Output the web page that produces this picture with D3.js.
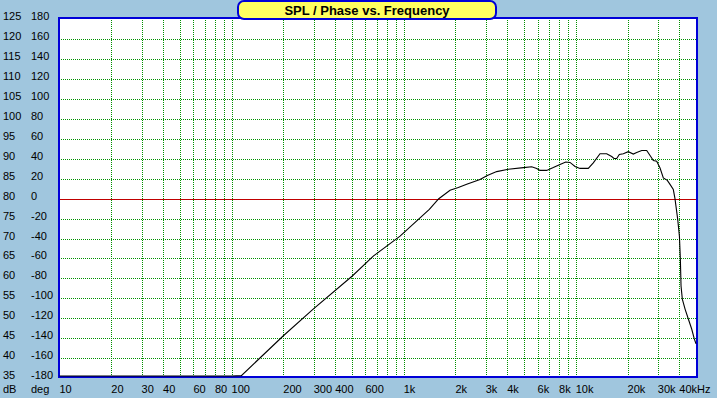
<!DOCTYPE html>
<html>
<head>
<meta charset="utf-8">
<script src="https://cdn.jsdelivr.net/npm/d3@7"></script>
<style>
  html, body { margin: 0; padding: 0; background: #a0c6de; }
  svg { display: block; }
  .lbl { font-family: "Liberation Sans", Arial, sans-serif; font-size: 11px; fill: #000; }
  .grid line { shape-rendering: crispEdges; }
</style>
</head>
<body>
<div id="chart"></div>
<script>
// SPL curve (Hz / dB)
const freqs = [10, 100, 114, 200, 298, 503, 666, 953, 1410, 1600, 1860, 2078, 2325, 2778, 3063, 3474,
  4056, 4962, 5546, 5930, 6200, 6776, 7410, 8104, 8747, 9264, 9906, 10590, 11830, 12650, 13840,
  15130, 16180, 16690, 17300, 17920, 18900, 20210, 21610, 22610, 24180, 25850, 27280, 28250,
  29560, 30900, 32290, 34060, 35320, 36910, 37740, 39150, 40050, 40560, 40930, 41640, 43200,
  45130, 47200, 48870, 50000];
const spl = [35, 35, 35.6, 45.6, 52.3, 60.6, 65.6, 70.6, 77.3, 80, 82.1, 82.8, 83.6, 84.8, 85.8, 86.8,
  87.4, 87.8, 88, 87.6, 87.1, 87.1, 87.8, 88.6, 89.2, 89.1, 88.1, 87.6, 87.6, 89, 91.3,
  91.3, 90.6, 90.1, 90.1, 91.1, 91.3, 91.8, 91.2, 91.6, 92.1, 92.1, 90.6, 89.6,
  89.4, 87.7, 85.2, 84.6, 83.6, 82.3, 80, 74.8, 70.6, 64.8, 58.1, 54.8, 52.3,
  49.8, 47.3, 44.8, 43.6];

// axis ticks
const dbTicks = d3.range(125, 34, -5);           // 125 .. 35
const degTicks = d3.range(180, -181, -20);       // 180 .. -180
const gridFreqs = [20, 30, 40, 50, 60, 70, 80, 90, 100, 200, 300, 400, 500, 600, 700, 800, 900,
  1000, 2000, 3000, 4000, 5000, 6000, 7000, 8000, 9000, 10000, 20000, 30000, 40000];
const freqLabels = [
  [10, "10"], [20, "20"], [30, "30"], [40, "40"], [60, "60"], [80, "80"], [100, "100"],
  [200, "200"], [300, "300"], [400, "400"], [600, "600"], [1000, "1k"], [2000, "2k"],
  [3000, "3k"], [4000, "4k"], [6000, "6k"], [8000, "8k"], [10000, "10k"], [20000, "20k"],
  [30000, "30k"], [40000, "40kHz"]
];
const title = "SPL / Phase vs. Frequency";

const width = 717, height = 398;
const plot = { left: 59, top: 18, right: 697, bottom: 377 };

const x = d3.scaleLog().domain([10, 50000]).range([59.5, 696]);
const y = d3.scaleLinear().domain([35, 125]).range([378, 19.4]);

const svg = d3.select("#chart").append("svg")
  .attr("width", width)
  .attr("height", height);

// plot background
svg.append("rect")
  .attr("x", plot.left).attr("y", plot.top)
  .attr("width", plot.right - plot.left).attr("height", plot.bottom - plot.top)
  .attr("fill", "#fff");

// vertical grid
svg.append("g").attr("class", "grid").selectAll("line")
  .data(gridFreqs)
  .enter().append("line")
  .attr("x1", d => Math.round(x(d)) + 0.5)
  .attr("x2", d => Math.round(x(d)) + 0.5)
  .attr("y1", plot.top).attr("y2", plot.bottom)
  .attr("stroke", "#009000")
  .attr("stroke-width", 1)
  .attr("stroke-dasharray", "1,1");

// horizontal grid (80 dB / 0 deg line in red)
svg.append("g").attr("class", "grid").selectAll("line")
  .data(dbTicks.filter(d => d > 35 && d < 125))
  .enter().append("line")
  .attr("x1", plot.left).attr("x2", plot.right)
  .attr("y1", d => Math.round(y(d)) + 0.5)
  .attr("y2", d => Math.round(y(d)) + 0.5)
  .attr("stroke", d => d === 80 ? "#c00000" : "#009000")
  .attr("stroke-width", 1)
  .attr("stroke-dasharray", d => d === 80 ? null : "1,1");

// frame
svg.append("rect")
  .attr("x", plot.left).attr("y", plot.top)
  .attr("width", plot.right - plot.left).attr("height", plot.bottom - plot.top)
  .attr("fill", "none")
  .attr("stroke", "#0000d8")
  .attr("stroke-width", 2);

// SPL curve
const data = freqs.map((f, i) => ({ f: f, v: spl[i] }));
const line = d3.line()
  .x(d => x(d.f))
  .y(d => Math.min(y(d.v), plot.bottom - 1));

svg.append("path")
  .datum(data)
  .attr("d", line)
  .attr("fill", "none")
  .attr("stroke", "#000")
  .attr("stroke-width", 1.1);

// left labels: dB and deg
svg.append("g").selectAll("text")
  .data(dbTicks)
  .enter().append("text")
  .attr("class", "lbl")
  .attr("x", 3)
  .attr("y", d => y(d) + 1)
  .text(d => d);

svg.append("g").selectAll("text")
  .data(degTicks)
  .enter().append("text")
  .attr("class", "lbl")
  .attr("x", 31)
  .attr("y", (d, i) => y(dbTicks[i]) + 1)
  .text(d => d);

// bottom labels
svg.append("g").selectAll("text")
  .data(freqLabels)
  .enter().append("text")
  .attr("class", "lbl")
  .attr("x", d => x(d[0]))
  .attr("y", 393)
  .text(d => d[1]);

svg.append("text").attr("class", "lbl").attr("x", 3).attr("y", 393).text("dB");
svg.append("text").attr("class", "lbl").attr("x", 31).attr("y", 393).text("deg");

// title box
svg.append("rect")
  .attr("x", 238).attr("y", 1)
  .attr("width", 258).attr("height", 18)
  .attr("rx", 6).attr("ry", 6)
  .attr("fill", "#ffff60")
  .attr("stroke", "#0000d8")
  .attr("stroke-width", 2);

svg.append("text")
  .attr("x", 367).attr("y", 15)
  .attr("text-anchor", "middle")
  .attr("font-family", "Liberation Sans, Arial, sans-serif")
  .attr("font-size", "13px")
  .attr("font-weight", "bold")
  .text(title);
</script>
</body>
</html>
